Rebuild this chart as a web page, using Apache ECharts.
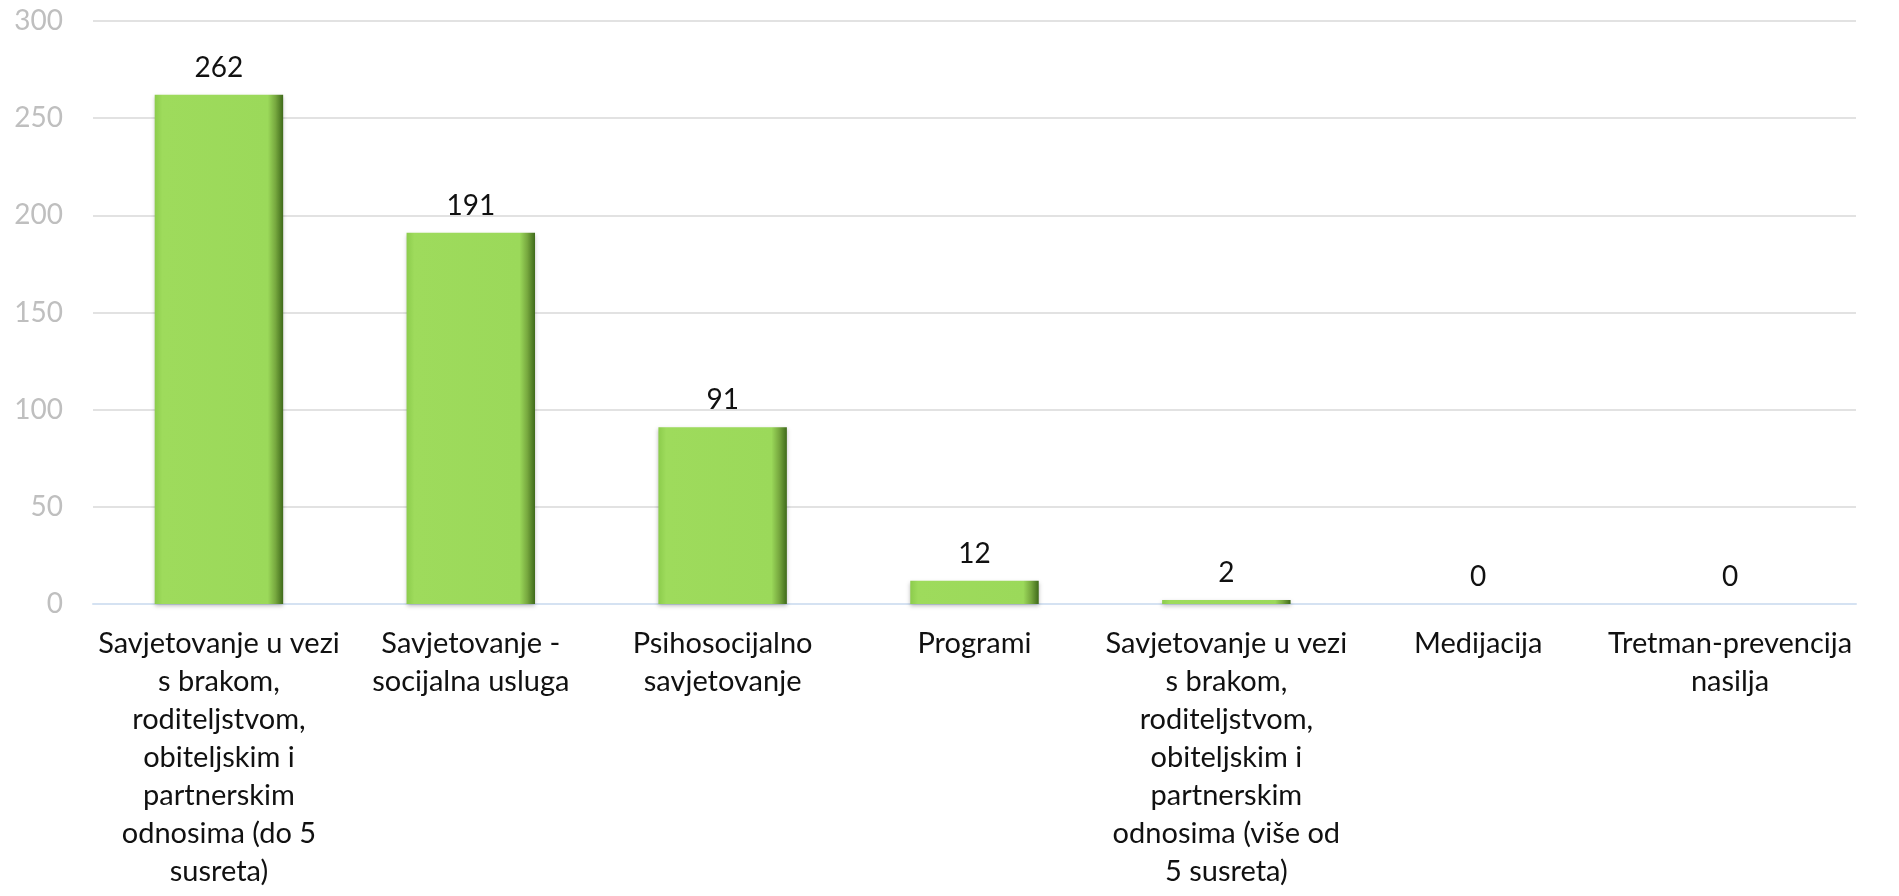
<!DOCTYPE html>
<html>
<head>
<meta charset="utf-8">
<script src="https://cdn.jsdelivr.net/npm/echarts@6/dist/echarts.min.js"></script>
<style>
    html, body { margin: 0; padding: 0; background: #fff; }
    #main { width: 1899px; height: 896px; }
</style>
</head>
<body>
<div id="main"></div>
<script>
    // kategorije (s prijelomima kao na originalu)
    var categories = [
        'Savjetovanje u vezi\ns brakom,\nroditeljstvom,\nobiteljskim i\npartnerskim\nodnosima (do 5\nsusreta)',
        'Savjetovanje -\nsocijalna usluga',
        'Psihosocijalno\nsavjetovanje',
        'Programi',
        'Savjetovanje u vezi\ns brakom,\nroditeljstvom,\nobiteljskim i\npartnerskim\nodnosima (više od\n5 susreta)',
        'Medijacija',
        'Tretman-prevencija\nnasilja'
    ];
    var values = [262, 191, 91, 12, 2, 0, 0];
    var yTicks = [0, 50, 100, 150, 200, 250, 300];

    var font = 'Lato, "Open Sans", sans-serif';

    var myChart = echarts.init(document.getElementById('main'));
    var option = {
        animation: false,
        textStyle: { fontFamily: font },
        grid: { left: 93, right: 43, top: 21, bottom: 292, containLabel: false },
        xAxis: {
            type: 'category',
            data: categories,
            axisTick: { show: false },
            axisLine: { lineStyle: { color: '#d5e2f2', width: 2 } },
            axisLabel: {
                interval: 0,
                margin: 21,
                color: '#111',
                fontSize: 29,
                lineHeight: 38,
                fontFamily: font,
                align: 'center'
            }
        },
        yAxis: {
            type: 'value',
            min: yTicks[0],
            max: yTicks[yTicks.length - 1],
            interval: 50,
            axisLine: { show: false },
            axisTick: { show: false },
            axisLabel: { color: '#bfbfbf', fontSize: 28, margin: 30, fontFamily: font },
            splitLine: { lineStyle: { color: '#d9d9d9', width: 1.5 } }
        },
        series: [{
            type: 'bar',
            data: values,
            barWidth: '51%',
            itemStyle: {
                color: {
                    type: 'linear', x: 0, y: 0, x2: 1, y2: 0,
                    colorStops: [
                        { offset: 0, color: '#8ccc4c' },
                        { offset: 0.06, color: '#9edb5c' },
                        { offset: 0.88, color: '#9bd95a' },
                        { offset: 0.94, color: '#77a83f' },
                        { offset: 1, color: '#3f6a1a' }
                    ]
                },
                borderWidth: 0,
                shadowColor: 'rgba(0,0,0,0.25)',
                shadowBlur: 4,
                shadowOffsetY: 2
            },
            label: {
                show: true,
                position: 'top',
                distance: 13,
                color: '#111',
                fontSize: 28,
                fontFamily: font
            }
        }]
    };
    myChart.setOption(option);
</script>
</body>
</html>
